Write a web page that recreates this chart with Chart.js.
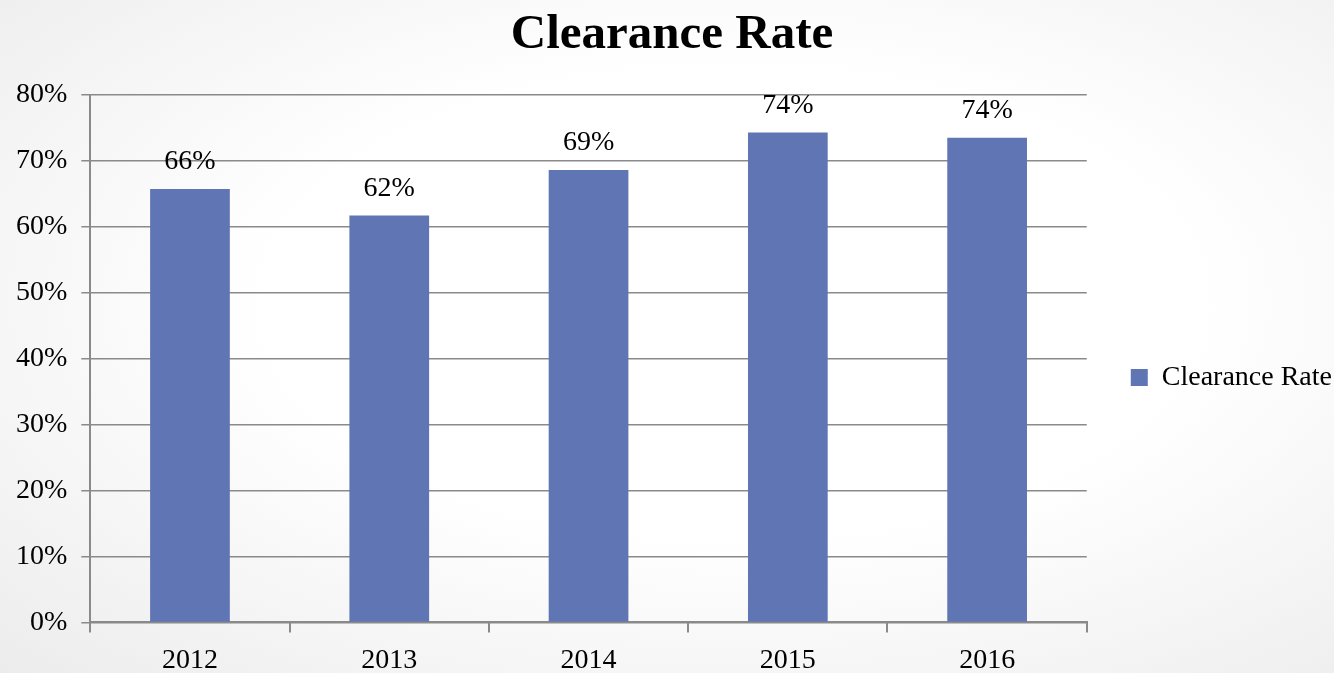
<!DOCTYPE html>
<html>
<head>
<meta charset="utf-8">
<script src="https://cdn.jsdelivr.net/npm/chart.js@4"></script>
<style>
  html, body {
    margin: 0;
    padding: 0;
  }
  body {
    width: 1334px;
    height: 673px;
    overflow: hidden;
    background: radial-gradient(ellipse at 55% 45%, #ffffff 0%, #ffffff 45%, #ececec 100%);
  }
  #wrap {
    position: relative;
    width: 1334px;
    height: 673px;
  }
</style>
</head>
<body>
<div id="wrap"><canvas id="myChart"></canvas></div>
<script>
  const years = ["2012", "2013", "2014", "2015", "2016"];
  const clearanceRate = [65.7, 61.7, 68.6, 74.3, 73.5];
  const yTicks = [0, 10, 20, 30, 40, 50, 60, 70, 80];

  const serif = "'Liberation Serif', 'Times New Roman', serif";

  // value labels above each bar
  const barLabels = {
    id: "barLabels",
    afterDatasetsDraw(chart) {
      const ctx = chart.ctx;
      const meta = chart.getDatasetMeta(0);
      ctx.save();
      ctx.font = "28px " + serif;
      ctx.fillStyle = "#000";
      ctx.textAlign = "center";
      ctx.textBaseline = "middle";
      meta.data.forEach((bar, i) => {
        ctx.fillText(Math.round(clearanceRate[i]) + "%", bar.x, bar.y - 27);
      });
      ctx.restore();
    },
  };

  const ctx = document.getElementById("myChart").getContext("2d");
  const barChart = new Chart(ctx, {
    type: "bar",
    data: {
      labels: years,
      datasets: [
        {
          label: "Clearance Rate",
          data: clearanceRate,
          backgroundColor: "#6076b4",
          borderWidth: 0,
          categoryPercentage: 1,
          barPercentage: 0.4,
        },
      ],
    },
    options: {
      responsive: true,
      maintainAspectRatio: false,
      animation: false,
      layout: {
        padding: { left: 2, right: -8, top: 2, bottom: -15 },
      },
      scales: {
        x: {
          grid: {
            display: true,
            drawOnChartArea: false,
            drawTicks: true,
            tickLength: 10,
            color: "#8a8a8a",
            lineWidth: 2,
          },
          border: { display: true, color: "#8a8a8a", width: 2 },
          ticks: {
            color: "#000",
            padding: 11,
            font: { family: serif, size: 28 },
          },
        },
        y: {
          min: 0,
          max: 80,
          afterBuildTicks(scale) {
            scale.ticks = yTicks.map((v) => ({ value: v }));
          },
          grid: {
            color: "#8a8a8a",
            lineWidth: 1.5,
            tickLength: 9,
          },
          border: { display: true, color: "#8a8a8a", width: 2 },
          ticks: {
            color: "#000",
            padding: 14,
            font: { family: serif, size: 28 },
            callback: (value) => value + "%",
          },
        },
      },
      plugins: {
        title: {
          display: true,
          text: "Clearance Rate",
          color: "#000",
          font: { family: serif, size: 49, weight: "bold" },
          padding: { top: 4, bottom: 30 },
        },
        legend: {
          display: true,
          position: "right",
          title: {
            display: true,
            text: "",
            font: { size: 1 },
            padding: { top: 0, bottom: 64 },
          },
          labels: {
            color: "#000",
            boxWidth: 17,
            boxHeight: 17,
            padding: 44,
            font: { family: serif, size: 28 },
          },
        },
        tooltip: { enabled: false },
      },
    },
    plugins: [barLabels],
  });
</script>
</body>
</html>
